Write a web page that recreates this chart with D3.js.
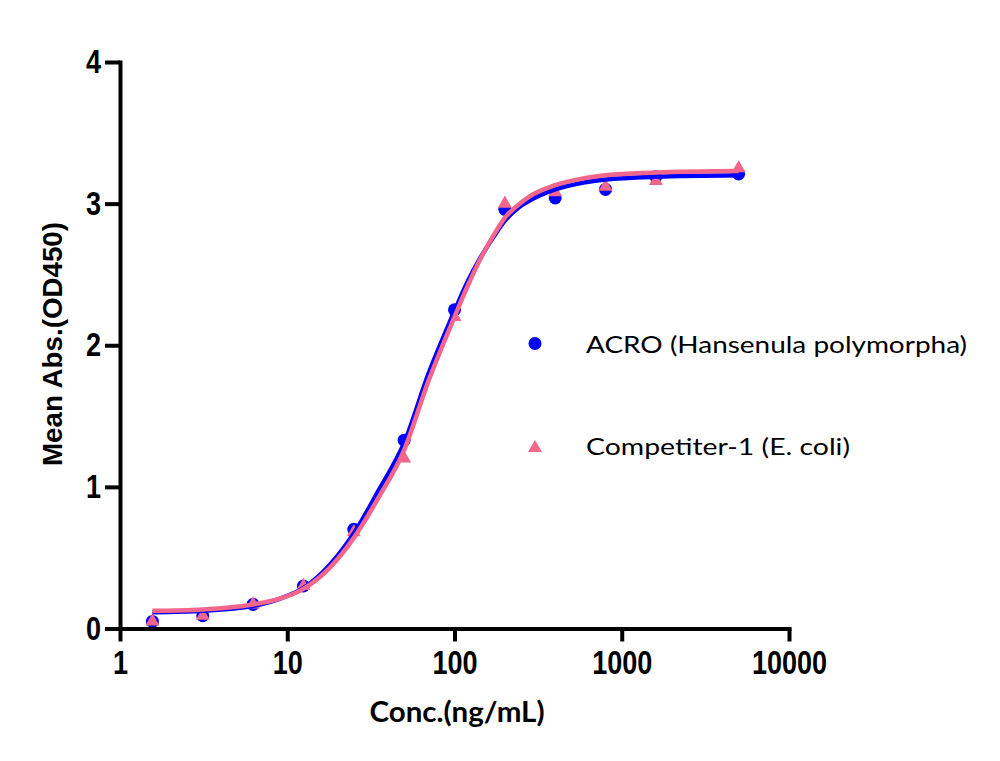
<!DOCTYPE html>
<html>
<head>
<meta charset="utf-8">
<script src="https://cdn.jsdelivr.net/npm/d3@7"></script>
<style>
  html, body { margin: 0; padding: 0; background: #fff; }
  svg { display: block; }
</style>
</head>
<body>
<svg id="chart" width="1000" height="761"></svg>
<script>
// ---- data ----
const conc = [1.5625, 3.125, 6.25, 12.5, 25, 50, 100, 200, 400, 800, 1600, 5000];
const acroValues = [0.05, 0.09, 0.17, 0.30, 0.70, 1.33, 2.25, 2.96, 3.04, 3.10, 3.19, 3.21];
const competitorValues = [0.05, 0.09, 0.17, 0.30, 0.68, 1.20, 2.20, 3.00, 3.08, 3.12, 3.16, 3.25];

// fitted curves
const fitConc = [1.5625, 3.125, 6.25, 9, 12.5, 18, 25, 35, 50, 70, 100, 120, 140, 170, 200, 240, 280, 400, 600, 800, 1600, 5000];
const acroFit = [0.115, 0.125, 0.16, 0.21, 0.285, 0.45, 0.67, 0.97, 1.31, 1.80, 2.24, 2.45, 2.60, 2.76, 2.88, 2.97, 3.02, 3.10, 3.15, 3.17, 3.19, 3.20];
const competitorFit = [0.125, 0.135, 0.17, 0.21, 0.28, 0.43, 0.64, 0.92, 1.26, 1.75, 2.20, 2.42, 2.59, 2.77, 2.90, 2.99, 3.05, 3.13, 3.18, 3.20, 3.22, 3.23];

const xTicks = [1, 10, 100, 1000, 10000];
const yTicks = [0, 1, 2, 3, 4];
const seriesNames = ["ACRO (Hansenula polymorpha)", "Competiter-1 (E. coli)"];
const xTitle = "Conc.(ng/mL)";
const yTitle = "Mean Abs.(OD450)";

const BLUE = "#0000ff";
const PINK = "#f2668b";

const svg = d3.select("#chart");

const x = d3.scaleLog().domain([1, 10000]).range([120, 789]);
const y = d3.scaleLinear().domain([0, 4]).range([628.5, 62]);

// ---- points ----
const gPts = svg.append("g");
gPts.selectAll("circle.acro")
  .data(conc.map((c, i) => [c, acroValues[i]]))
  .join("circle")
  .attr("class", "acro")
  .attr("cx", d => x(d[0]))
  .attr("cy", d => y(d[1]))
  .attr("r", 6.5)
  .attr("fill", BLUE);

const tri = d3.symbol().type(d3.symbolTriangle).size(85);
gPts.selectAll("path.comp")
  .data(conc.map((c, i) => [c, competitorValues[i]]))
  .join("path")
  .attr("class", "comp")
  .attr("transform", d => `translate(${x(d[0])},${y(d[1])})`)
  .attr("d", tri)
  .attr("fill", PINK);

// ---- fitted lines ----
const line = d3.line()
  .x(d => x(d[0]))
  .y(d => y(d[1]))
  .curve(d3.curveMonotoneX);

svg.append("path")
  .datum(fitConc.map((c, i) => [c, acroFit[i]]))
  .attr("d", line)
  .attr("fill", "none")
  .attr("stroke", BLUE)
  .attr("stroke-width", 4.5);

svg.append("path")
  .datum(fitConc.map((c, i) => [c, competitorFit[i]]))
  .attr("d", line)
  .attr("fill", "none")
  .attr("stroke", PINK)
  .attr("stroke-width", 4.5);

// ---- axes ----
const xAxis = d3.axisBottom(x)
  .tickValues(xTicks)
  .tickFormat(d3.format("d"))
  .tickSize(13)
  .tickSizeOuter(0)
  .tickPadding(9.5);

const gx = svg.append("g")
  .attr("transform", `translate(0,${y(0)})`)
  .call(xAxis);

const yAxis = d3.axisLeft(y)
  .tickValues(yTicks)
  .tickFormat(d3.format("d"))
  .tickSize(15)
  .tickSizeOuter(0)
  .tickPadding(4);

const gy = svg.append("g")
  .attr("transform", `translate(${x(1)},0)`)
  .call(yAxis);

[gx, gy].forEach(g => {
  g.select(".domain").attr("stroke", "#000").attr("stroke-width", 4).attr("stroke-linecap", "square");
  g.selectAll(".tick line").attr("stroke", "#000").attr("stroke-width", 4);
  g.selectAll(".tick text")
    .attr("fill", "#000")
    .style("font-family", "'Liberation Sans', Arial, sans-serif")
    .style("font-weight", "bold")
    .style("font-size", "33px");
});
gx.selectAll(".tick text").attr("transform", "scale(0.82,1)");
gy.selectAll(".tick text").attr("transform", "scale(0.82,1)").attr("x", -19 / 0.82);

// ---- axis titles ----
svg.append("text")
  .attr("x", 457)
  .attr("y", 722)
  .attr("text-anchor", "middle")
  .attr("textLength", 175)
  .attr("lengthAdjust", "spacingAndGlyphs")
  .style("font-family", "Lato, 'Open Sans', sans-serif")
  .style("font-weight", "bold")
  .style("font-size", "28px")
  .text(xTitle);

svg.append("text")
  .attr("transform", "translate(62,344) rotate(-90)")
  .attr("text-anchor", "middle")
  .attr("textLength", 244)
  .attr("lengthAdjust", "spacingAndGlyphs")
  .style("font-family", "'Liberation Sans', Arial, sans-serif")
  .style("font-weight", "bold")
  .style("font-size", "27px")
  .text(yTitle);

// ---- legend ----
const legend = svg.append("g");
legend.append("circle").attr("cx", 535).attr("cy", 343.5).attr("r", 6.5).attr("fill", BLUE);
legend.append("path").attr("transform", "translate(535,448)").attr("d", tri).attr("fill", PINK);
const legendWidths = [381, 264];
const legendY = [352.5, 455];
seriesNames.forEach((name, i) => {
  legend.append("text")
    .attr("x", 586)
    .attr("y", legendY[i])
    .attr("textLength", legendWidths[i])
    .attr("lengthAdjust", "spacingAndGlyphs")
    .style("font-family", "Lato, 'Open Sans', sans-serif")
    .style("font-size", "24px")
    .attr("fill", "#000")
    .text(name);
});
</script>
</body>
</html>
